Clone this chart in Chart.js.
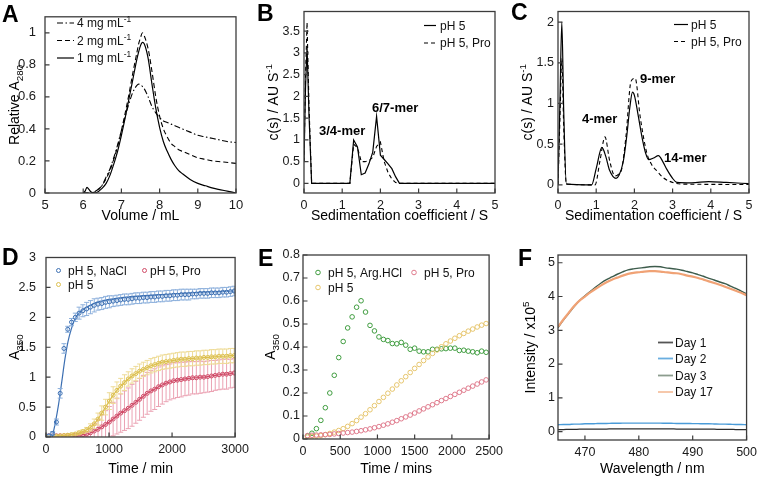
<!DOCTYPE html>
<html><head><meta charset="utf-8">
<script src="https://cdn.jsdelivr.net/npm/chart.js@4.4.1/dist/chart.umd.min.js"></script>
<style>
html,body{margin:0;padding:0;background:#fff;width:762px;height:479px;overflow:hidden}
canvas{position:absolute}
</style></head><body>
<canvas id="cA"></canvas><canvas id="cB"></canvas><canvas id="cC"></canvas>
<canvas id="cD"></canvas><canvas id="cE"></canvas><canvas id="cF"></canvas>
<script>
// ---------------- DATA ----------------
// Panel A : SEC traces
const aX  = [6.0,6.05,6.1,6.15,6.2,6.25,6.3,6.4,6.5,6.6,6.7,6.8,6.9,7.0,7.1,7.2,7.3,7.4,7.45,7.5,7.55,7.6,7.7,7.8,7.9,8.0,8.1,8.2,8.3,8.4,8.5,8.6,8.8,9.0,9.2,9.4,9.6,9.8,10.0];
const a1mg = [0,0.012,0.035,0.022,0.008,0.002,0,0.01,0.03,0.06,0.11,0.18,0.26,0.36,0.47,0.59,0.71,0.83,0.88,0.92,0.94,0.93,0.84,0.68,0.53,0.41,0.32,0.26,0.21,0.17,0.14,0.12,0.085,0.06,0.045,0.03,0.02,0.01,0];
const a2mg = [0,0,0,0,0,0.002,0.006,0.02,0.05,0.09,0.14,0.21,0.29,0.39,0.5,0.62,0.75,0.87,0.93,0.97,1.0,0.98,0.9,0.76,0.6,0.48,0.4,0.35,0.31,0.29,0.27,0.26,0.24,0.22,0.21,0.2,0.195,0.19,0.185];
const a4mg = [0,0,0,0,0,0.002,0.008,0.025,0.05,0.1,0.15,0.22,0.3,0.39,0.48,0.56,0.63,0.67,0.68,0.675,0.665,0.65,0.6,0.54,0.5,0.47,0.45,0.44,0.43,0.42,0.41,0.4,0.38,0.36,0.35,0.34,0.33,0.32,0.315];
const aXTicks = [5,6,7,8,9,10];
const aYTicks = [0,0.2,0.4,0.6,0.8,1];

// Panel B : c(s)
const bX      = [0,0.04,0.08,0.13,0.2,1.2,1.3,1.4,1.5,1.6,1.7,1.8,1.9,2.0,2.1,2.2,2.3,2.4,2.5,5];
const bPH5    = [0.5,2.2,3.15,1.6,0,0,1.0,0.84,0.2,0.24,0.45,0.72,1.54,0.65,0.55,0.45,0.34,0.15,0,0];
const bPH5Pro = [0.5,2.5,3.7,1.8,0,0,0.9,0.82,0.5,0.5,0.52,0.6,0.85,0.95,0.5,0.25,0.1,0.02,0,0];
const bXTicks = [0,1,2,3,4,5];
const bYTicks = [0,0.5,1,1.5,2,2.5,3,3.5];

// Panel C : c(s)
const cXs  = [0,0.05,0.1,0.15,0.22,0.88,1.0,1.15,1.25,1.35,1.52,1.6,1.71,1.8,1.88,1.95,2.0,2.1,2.21,2.3,2.37,2.5,2.63,2.75,2.85,3.0,3.11,3.5,3.94,4.4,5.0];
const cPH5 = [0,1.0,2.0,0.9,0.01,0,0.2,0.46,0.35,0.18,0.08,0.12,0.29,0.6,0.95,1.14,1.1,0.85,0.56,0.38,0.31,0.33,0.36,0.28,0.19,0.08,0.03,0.025,0.04,0.03,0.015];
const cXd  = [0,0.05,0.1,0.15,0.22,0.97,1.1,1.23,1.35,1.49,1.58,1.67,1.78,1.91,2.02,2.15,2.32,2.45,2.59,2.75,2.89,3.2,5.0];
const cPH5Pro = [0,0.8,1.55,0.7,0.01,0,0.3,0.59,0.3,0.11,0.13,0.2,0.6,1.27,1.31,0.84,0.4,0.25,0.17,0.09,0.05,0.01,0.005];
const cXTicks = [0,1,2,3,4,5];
const cYTicks = [0,0.5,1,1.5,2];

// Panel D : turbidity kinetics
const dT = [45,105,165,225,285,345,405,465,525,585,645,705,765,825,885,945,1005,1065,1125,1185,1245,1305,1365,1425,1485,1545,1605,1665,1725,1785,1845,1905,1965,2025,2085,2145,2205,2265,2325,2385,2445,2505,2565,2625,2685,2745,2805,2865,2925,2985];
const dNaCl = [0.02,0.06,0.25,0.73,1.48,1.8,1.92,2.0,2.07,2.11,2.14,2.17,2.2,2.22,2.23,2.25,2.26,2.27,2.28,2.29,2.3,2.3,2.31,2.32,2.32,2.33,2.33,2.34,2.34,2.35,2.35,2.36,2.36,2.37,2.37,2.38,2.38,2.38,2.39,2.39,2.4,2.4,2.4,2.41,2.41,2.41,2.42,2.42,2.43,2.44];
const dNaClErr = [0.02,0.03,0.05,0.08,0.08,0.05,0.06,0.07,0.1,0.1,0.11,0.11,0.11,0.1,0.1,0.1,0.1,0.09,0.09,0.09,0.09,0.09,0.09,0.09,0.09,0.09,0.09,0.09,0.09,0.09,0.09,0.09,0.09,0.09,0.09,0.09,0.09,0.09,0.08,0.08,0.08,0.08,0.08,0.08,0.08,0.08,0.08,0.08,0.08,0.08];
const dFitT = [100,150,200,250,300,350,400,450,500,600,700,800,1000,1200,1500,2000,2500,3000];
const dFitNaCl = [0,0.25,0.55,0.92,1.3,1.6,1.8,1.95,2.04,2.14,2.2,2.25,2.3,2.33,2.36,2.39,2.42,2.44];
const dPH5 = [0.01,0.01,0.015,0.02,0.025,0.03,0.04,0.05,0.07,0.09,0.12,0.16,0.22,0.3,0.4,0.5,0.6,0.7,0.78,0.85,0.91,0.97,1.02,1.06,1.1,1.13,1.16,1.19,1.21,1.23,1.25,1.26,1.27,1.28,1.29,1.3,1.3,1.31,1.31,1.32,1.32,1.33,1.33,1.34,1.34,1.35,1.35,1.35,1.36,1.36];
const dPH5Err = [0.01,0.01,0.01,0.01,0.01,0.02,0.02,0.02,0.03,0.03,0.04,0.06,0.08,0.1,0.12,0.13,0.14,0.14,0.14,0.13,0.13,0.12,0.12,0.12,0.12,0.12,0.12,0.12,0.12,0.12,0.12,0.12,0.12,0.12,0.12,0.12,0.12,0.12,0.12,0.12,0.12,0.12,0.12,0.12,0.12,0.12,0.12,0.12,0.12,0.12];
const dPro = [0.02,0.02,0.02,0.02,0.02,0.025,0.025,0.03,0.03,0.04,0.05,0.07,0.1,0.13,0.17,0.21,0.25,0.3,0.35,0.4,0.44,0.48,0.53,0.58,0.63,0.68,0.73,0.77,0.8,0.84,0.87,0.9,0.92,0.94,0.95,0.96,0.97,0.98,0.99,0.99,1.0,1.0,1.01,1.02,1.03,1.04,1.05,1.05,1.06,1.07];
const dProErr = [0.01,0.01,0.01,0.01,0.01,0.02,0.02,0.02,0.03,0.03,0.04,0.07,0.12,0.16,0.2,0.23,0.26,0.28,0.3,0.32,0.33,0.34,0.35,0.35,0.35,0.35,0.35,0.34,0.34,0.33,0.32,0.31,0.3,0.3,0.29,0.29,0.28,0.28,0.27,0.27,0.27,0.26,0.26,0.26,0.25,0.25,0.25,0.25,0.24,0.24];
const dXTicks = [0,1000,2000,3000];
const dYTicks = [0,0.5,1,1.5,2,2.5,3];

// Panel E : turbidity kinetics
const eT = [60,120,180,240,300,360,420,480,540,600,660,720,780,840,900,960,1020,1080,1140,1200,1260,1320,1380,1440,1500,1560,1620,1680,1740,1800,1860,1920,1980,2040,2100,2160,2220,2280,2340,2400,2460];
const eArg = [0.013,0.025,0.045,0.081,0.136,0.2,0.277,0.354,0.424,0.483,0.531,0.573,0.601,0.552,0.494,0.47,0.444,0.433,0.428,0.415,0.414,0.42,0.408,0.39,0.395,0.382,0.379,0.379,0.39,0.39,0.392,0.393,0.395,0.395,0.385,0.386,0.382,0.379,0.375,0.382,0.377];
const ePH5 = [0.008,0.01,0.012,0.015,0.019,0.024,0.03,0.037,0.045,0.055,0.067,0.08,0.095,0.11,0.127,0.145,0.163,0.181,0.199,0.217,0.235,0.253,0.271,0.289,0.307,0.324,0.341,0.357,0.372,0.387,0.401,0.414,0.426,0.438,0.449,0.459,0.469,0.478,0.487,0.495,0.502];
const ePro = [0.015,0.016,0.017,0.018,0.019,0.02,0.022,0.024,0.026,0.028,0.03,0.033,0.036,0.04,0.044,0.049,0.054,0.06,0.066,0.073,0.08,0.088,0.096,0.104,0.113,0.122,0.131,0.14,0.149,0.158,0.167,0.176,0.185,0.194,0.203,0.212,0.221,0.23,0.239,0.248,0.257];
const eXTicks = [0,500,1000,1500,2000,2500];
const eYTicks = [0,0.1,0.2,0.3,0.4,0.5,0.6,0.7,0.8];

// Panel F : ThT fluorescence
const fWl = [465,466,467,468,469,470,471,472,473,474,475,476,477,478,479,480,481,482,483,484,485,486,487,488,489,490,491,492,493,494,495,496,497,498,499,500];
const fDay1 = [0.06,0.06,0.065,0.065,0.07,0.07,0.07,0.075,0.075,0.075,0.08,0.08,0.08,0.08,0.08,0.08,0.08,0.08,0.08,0.08,0.08,0.08,0.075,0.075,0.075,0.075,0.07,0.07,0.07,0.07,0.065,0.065,0.065,0.06,0.06,0.06];
const fDay2 = [0.2,0.21,0.21,0.22,0.22,0.23,0.23,0.235,0.24,0.24,0.245,0.245,0.25,0.25,0.25,0.25,0.25,0.25,0.25,0.25,0.245,0.245,0.24,0.24,0.24,0.235,0.235,0.23,0.23,0.225,0.22,0.22,0.215,0.21,0.21,0.2];
const fDay3 = [3.08,3.3,3.5,3.7,3.88,4.02,4.15,4.28,4.4,4.5,4.58,4.66,4.73,4.79,4.82,4.84,4.86,4.88,4.89,4.88,4.85,4.83,4.81,4.78,4.74,4.7,4.65,4.6,4.54,4.49,4.43,4.38,4.31,4.24,4.16,4.08];
const fDay17 = [3.1,3.32,3.52,3.72,3.88,4.0,4.12,4.23,4.33,4.42,4.5,4.56,4.62,4.67,4.7,4.72,4.74,4.75,4.75,4.74,4.72,4.7,4.69,4.66,4.62,4.59,4.55,4.5,4.45,4.4,4.35,4.29,4.23,4.17,4.11,4.04];
const fXTicks = [470,480,490,500];
const fYTicks = [0,1,2,3,4,5];

// ---------------- HELPERS ----------------
const FONT = "'Liberation Sans', Arial, Helvetica, sans-serif";
const FRAME = '#3c3c3c';
function fnt(size, bold){ return (bold ? 'bold ' : '') + size + 'px ' + FONT; }
function pts(xs, ys){ return xs.map((x,i)=>({x:x, y:ys[i]})); }

function rich(ctx, parts, x, y, size, align, bold){
  let w = 0;
  for (const p of parts){ ctx.font = fnt(p[1] ? size*0.7 : size, bold); w += ctx.measureText(p[0]).width; }
  let cx = align === 'center' ? x - w/2 : x;
  for (const p of parts){
    const s = p[1] ? size*0.7 : size;
    ctx.font = fnt(s, bold);
    const dy = p[1] === 'sub' ? size*0.28 : (p[1] === 'sup' ? -size*0.4 : 0);
    ctx.fillText(p[0], cx, y + dy);
    cx += ctx.measureText(p[0]).width;
  }
}

const errPlugin = {
  id: 'errbars',
  beforeDatasetDraw(chart, args){
    const ds = chart.data.datasets[args.index];
    if (!ds.err) return;
    const xs = chart.scales.x, ys = chart.scales.y, ctx = chart.ctx, a = chart.chartArea;
    ctx.save();
    ctx.beginPath(); ctx.rect(a.left, a.top, a.right - a.left, a.bottom - a.top); ctx.clip();
    ctx.setLineDash([]);
    ctx.strokeStyle = ds.errColor; ctx.lineWidth = 1;
    ds.data.forEach((p, i) => {
      const e = ds.err[i];
      const px = xs.getPixelForValue(p.x);
      const y1 = ys.getPixelForValue(p.y - e), y2 = ys.getPixelForValue(p.y + e);
      ctx.beginPath();
      ctx.moveTo(px, y1); ctx.lineTo(px, y2);
      ctx.moveTo(px - 2.5, y1); ctx.lineTo(px + 2.5, y1);
      ctx.moveTo(px - 2.5, y2); ctx.lineTo(px + 2.5, y2);
      ctx.stroke();
    });
    ctx.restore();
  }
};

function makeChart(id, box, area, datasets, xr, yr, deco){
  const cv = document.getElementById(id);
  cv.width = box[2]; cv.height = box[3];
  cv.style.left = box[0] + 'px'; cv.style.top = box[1] + 'px';
  const L = area[0] - box[0], T = area[1] - box[1], R = area[2] - box[0], B = area[3] - box[1];
  const ox = box[0], oy = box[1];
  const decoPlugin = {
    id: 'deco' + id,
    afterDraw(chart){
      const ctx = chart.ctx, a = chart.chartArea;
      ctx.save();
      ctx.setLineDash([]);
      // frame + inward ticks
      ctx.strokeStyle = FRAME; ctx.lineWidth = 1.3;
      ctx.strokeRect(a.left, a.top, a.right - a.left, a.bottom - a.top);
      ctx.lineWidth = 1.2;
      ctx.beginPath();
      chart.scales.x.ticks.forEach(tk => {
        const px = chart.scales.x.getPixelForValue(tk.value);
        ctx.moveTo(px, a.bottom); ctx.lineTo(px, a.bottom - 4.5);
      });
      chart.scales.y.ticks.forEach(tk => {
        const py = chart.scales.y.getPixelForValue(tk.value);
        ctx.moveTo(a.left, py); ctx.lineTo(a.left + 4.5, py);
      });
      ctx.stroke();
      ctx.fillStyle = '#000'; ctx.textBaseline = 'alphabetic'; ctx.textAlign = 'left';
      // panel letter
      ctx.font = fnt(23, true);
      ctx.fillText(deco.letter[0], deco.letter[1] - ox, deco.letter[2] - oy);
      // x title
      rich(ctx, deco.xTitle, (a.left + a.right)/2, deco.xTitleY - oy, 14, 'center', false);
      // y title
      ctx.save();
      ctx.translate(deco.yTitleX - ox, (a.top + a.bottom)/2);
      ctx.rotate(-Math.PI/2);
      rich(ctx, deco.yTitle, 0, 5, 14, 'center', false);
      ctx.restore();
      // annotation labels
      (deco.labels || []).forEach(lb => {
        ctx.font = fnt(13, true); ctx.fillStyle = '#000';
        ctx.fillText(lb[0], lb[1] - ox, lb[2] - oy);
      });
      // legend
      (deco.legend || []).forEach(g => {
        const y = g.y - oy;
        ctx.strokeStyle = g.color; ctx.lineWidth = g.lw || 1.2;
        if (g.type === 'line'){
          ctx.setLineDash(g.dash || []);
          ctx.beginPath(); ctx.moveTo(g.x1 - ox, y + 0.5); ctx.lineTo(g.x2 - ox, y + 0.5); ctx.stroke();
          ctx.setLineDash([]);
        } else {
          ctx.lineWidth = 1;
          ctx.beginPath(); ctx.arc(g.mx - ox, y, g.r || 2.2, 0, Math.PI*2); ctx.stroke();
        }
        ctx.fillStyle = '#111';
        rich(ctx, g.text, g.tx - ox, y + 4.5, 12, 'left', false);
      });
      ctx.restore();
    }
  };
  const tickCfg = (size, padding) => ({ font: { family: FONT, size: size }, color: '#1a1a1a', padding: padding, autoSkip: false, maxRotation: 0, minRotation: 0, callback: v => String(v) });
  return new Chart(cv, {
    type: 'scatter',
    data: { datasets: datasets },
    options: {
      responsive: false, animation: false, devicePixelRatio: 1,
      layout: { padding: { left: 0, top: T, right: box[2] - R, bottom: 0 } },
      plugins: { legend: { display: false }, tooltip: { enabled: false } },
      scales: {
        x: { type: 'linear', position: 'bottom', min: xr.min, max: xr.max, grid: { display: false, drawTicks: false }, border: { display: false },
             ticks: tickCfg(deco.tickSize, 5), afterBuildTicks: s => { s.ticks = xr.ticks.map(v => ({ value: v })); },
             afterFit: s => { s.height = box[3] - B; } },
        y: { type: 'linear', position: 'left', min: yr.min, max: yr.max, grid: { display: false, drawTicks: false }, border: { display: false },
             ticks: tickCfg(deco.tickSize, deco.yPad), afterBuildTicks: s => { s.ticks = yr.ticks.map(v => ({ value: v })); },
             afterFit: s => { s.width = L; } }
      }
    },
    plugins: [errPlugin, decoPlugin]
  });
}

function lineDs(xs, ys, color, dash, width, smooth){
  return { data: pts(xs, ys), showLine: true, borderColor: color, borderWidth: width || 1.2, borderDash: dash || [],
           pointRadius: 0, pointHoverRadius: 0, fill: false, tension: 0,
           cubicInterpolationMode: smooth ? 'monotone' : 'default' };
}
function circDs(xs, ys, color, r, extra){
  return Object.assign({ data: pts(xs, ys), showLine: false, borderColor: color, backgroundColor: 'rgba(0,0,0,0)',
           pointStyle: 'circle', pointRadius: r, pointBorderWidth: 1, pointHoverRadius: r }, extra || {});
}

// ---------------- PANELS ----------------
const DASHDOT = [6,2.5,1.5,2.5];
const DASH = [5,3];

makeChart('cA', [0,0,254,240], [45,10,236,193], [
  lineDs(aX, a4mg, '#000', DASHDOT, 1.1, true),
  lineDs(aX, a2mg, '#000', DASH, 1.1, true),
  lineDs(aX, a1mg, '#000', [], 1.2, true)
], { min: 5, max: 10, ticks: aXTicks }, { min: 0, max: 1.1, ticks: aYTicks }, {
  tickSize: 13, yPad: 9,
  letter: ['A', 2, 22],
  xTitle: [['Volume / mL']], xTitleY: 220,
  yTitle: [['Relative A'], ['280', 'sub']], yTitleX: 14,
  legend: [
    { type: 'line', x1: 57, x2: 74, y: 22.5, color: '#000', dash: DASHDOT, tx: 77, text: [['4 mg mL'], ['-1', 'sup']] },
    { type: 'line', x1: 57, x2: 74, y: 40, color: '#000', dash: DASH, tx: 77, text: [['2 mg mL'], ['-1', 'sup']] },
    { type: 'line', x1: 57, x2: 74, y: 57.5, color: '#000', tx: 77, text: [['1 mg mL'], ['-1', 'sup']] }
  ]
});

makeChart('cB', [254,0,254,240], [304,10,495,193], [
  lineDs(bX, bPH5Pro, '#000', [4,3], 1.1, false),
  lineDs(bX, bPH5, '#000', [], 1.2, false)
], { min: 0, max: 5, ticks: bXTicks }, { min: -0.22, max: 3.95, ticks: bYTicks }, {
  tickSize: 12.5, yPad: 4,
  letter: ['B', 257, 21],
  xTitle: [['Sedimentation coefficient / S']], xTitleY: 220,
  yTitle: [['c(s) / AU S'], ['-1', 'sup']], yTitleX: 273,
  labels: [['3/4-mer', 319, 135], ['6/7-mer', 372, 112]],
  legend: [
    { type: 'line', x1: 424, x2: 436, y: 25, color: '#000', tx: 440, text: [['pH 5']] },
    { type: 'line', x1: 424, x2: 436, y: 42.5, color: '#000', dash: [4,3], tx: 440, text: [['pH 5, Pro']] }
  ]
});

makeChart('cC', [508,0,254,240], [558,10,749,193], [
  lineDs(cXd, cPH5Pro, '#000', [4,3], 1.1, true),
  lineDs(cXs, cPH5, '#000', [], 1.2, true)
], { min: 0, max: 5, ticks: cXTicks }, { min: -0.1, max: 2.13, ticks: cYTicks }, {
  tickSize: 12.5, yPad: 4,
  letter: ['C', 511, 20],
  xTitle: [['Sedimentation coefficient / S']], xTitleY: 220,
  yTitle: [['c(s) / AU S'], ['-1', 'sup']], yTitleX: 527,
  labels: [['4-mer', 582, 123], ['9-mer', 640, 83], ['14-mer', 664, 162]],
  legend: [
    { type: 'line', x1: 674, x2: 688, y: 24, color: '#000', tx: 691, text: [['pH 5']] },
    { type: 'line', x1: 674, x2: 688, y: 41, color: '#000', dash: [4,3], tx: 691, text: [['pH 5, Pro']] }
  ]
});

const BLUE = '#3c6fb2', BLUE_E = '#8db0dc';
const YEL = '#dcbf4e', YEL_E = '#eedb96';
const RED = '#cf4a66', RED_E = '#eba2b3';
makeChart('cD', [0,240,254,239], [46,254,236,437], [
  circDs(dT, dNaCl, BLUE, 2, { err: dNaClErr, errColor: BLUE_E }),
  lineDs(dFitT, dFitNaCl, BLUE, [], 1.2, true),
  circDs(dT, dPH5, YEL, 2, { err: dPH5Err, errColor: YEL_E, showLine: true, borderWidth: 1.2, tension: 0.4 }),
  circDs(dT, dPro, RED, 2, { err: dProErr, errColor: RED_E, showLine: true, borderWidth: 1.2, tension: 0.4 })
], { min: 0, max: 3000, ticks: dXTicks }, { min: 0, max: 3, ticks: dYTicks }, {
  tickSize: 12.5, yPad: 10,
  letter: ['D', 2, 265],
  xTitle: [['Time / min']], xTitleY: 473,
  yTitle: [['A'], ['350', 'sub']], yTitleX: 14,
  legend: [
    { type: 'circ', mx: 58.5, y: 270.5, color: BLUE, r: 2, tx: 68, text: [['pH 5, NaCl']] },
    { type: 'circ', mx: 144.5, y: 270.5, color: RED, r: 2, tx: 150, text: [['pH 5, Pro']] },
    { type: 'circ', mx: 58.5, y: 284.5, color: YEL, r: 2, tx: 68, text: [['pH 5']] }
  ]
});

const GRN = '#3f9c3f', YEL2 = '#e6c56c', RED2 = '#df7a8c';
makeChart('cE', [254,240,254,239], [303,255,495,439], [
  circDs(eT, ePro, RED2, 2.3),
  circDs(eT, ePH5, YEL2, 2.3),
  circDs(eT, eArg, GRN, 2.3)
], { min: 0, max: 2500, ticks: eXTicks }, { min: 0, max: 0.8, ticks: eYTicks }, {
  tickSize: 12.5, yPad: 3,
  letter: ['E', 258, 266],
  xTitle: [['Time / mins']], xTitleY: 473,
  yTitle: [['A'], ['350', 'sub']], yTitleX: 270,
  legend: [
    { type: 'circ', mx: 318, y: 272.5, color: GRN, r: 2.3, tx: 328, text: [['pH 5, Arg.HCl']] },
    { type: 'circ', mx: 414, y: 272.5, color: RED2, r: 2.3, tx: 424, text: [['pH 5, Pro']] },
    { type: 'circ', mx: 318, y: 287.5, color: YEL2, r: 2.3, tx: 328, text: [['pH 5']] }
  ]
});

makeChart('cF', [508,240,254,239], [558,255,753,440], [
  lineDs(fWl, fDay1, '#2e2e2e', [], 1.3, true),
  lineDs(fWl, fDay2, '#4a9bd8', [], 1.4, true),
  lineDs(fWl, fDay17, '#f0a275', [], 2.2, true),
  lineDs(fWl, fDay3, '#3d5c4c', [], 1.4, true)
], { min: 465, max: 500, ticks: fXTicks }, { min: -0.25, max: 5.23, ticks: fYTicks }, {
  tickSize: 12.5, yPad: 3,
  letter: ['F', 518, 266],
  xTitle: [['Wavelength / nm']], xTitleY: 473,
  yTitle: [['Intensity / x10'], ['5', 'sup']], yTitleX: 530,
  legend: [
    { type: 'line', x1: 658, x2: 673, y: 342, color: '#555', lw: 1.8, tx: 675, text: [['Day 1']] },
    { type: 'line', x1: 658, x2: 673, y: 358, color: '#6aaee0', lw: 1.8, tx: 675, text: [['Day 2']] },
    { type: 'line', x1: 658, x2: 673, y: 375, color: '#8c9c8e', lw: 1.8, tx: 675, text: [['Day 3']] },
    { type: 'line', x1: 658, x2: 673, y: 391.5, color: '#f5c2a2', lw: 1.8, tx: 675, text: [['Day 17']] }
  ]
});
</script>
</body></html>
